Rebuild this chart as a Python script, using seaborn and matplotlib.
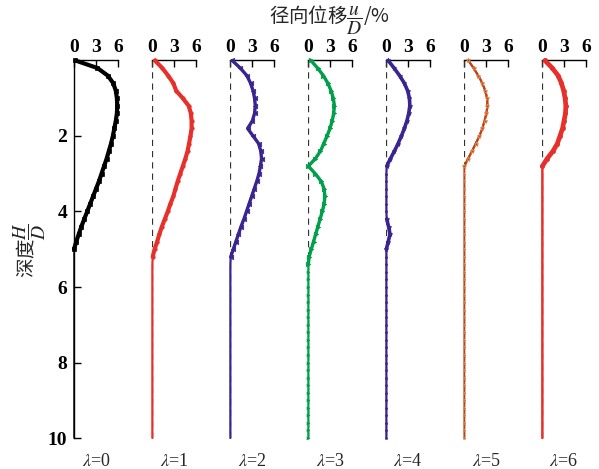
import matplotlib
matplotlib.use("Agg")
import matplotlib.pyplot as plt
import seaborn as sns
import pandas as pd
import numpy as np

# ---------------- data ----------------
depth = [0.0, 0.2, 0.4, 0.6, 0.8, 1.0, 1.2, 1.4, 1.6, 1.8,
         2.0, 2.2, 2.4, 2.6, 2.8, 3.0, 3.2, 3.4, 3.6, 3.8,
         4.0, 4.2, 4.4, 4.6, 4.8, 5.0, 5.2, 5.4, 5.6, 5.8,
         6.0, 6.2, 6.4, 6.6, 6.8, 7.0, 7.2, 7.4, 7.6, 7.8,
         8.0, 8.2, 8.4, 8.6, 8.8, 9.0, 9.2, 9.4, 9.6, 9.8, 10.0]

lam0 = [0.2, 3.2, 4.6, 5.35, 5.7, 5.85, 5.9, 5.85, 5.7, 5.5,
        5.3, 5.05, 4.75, 4.45, 4.1, 3.75, 3.4, 3.0, 2.6, 2.2,
        1.8, 1.4, 1.0, 0.65, 0.3, 0.0, 0.0, 0.0, 0.0, 0.0,
        0.0, 0.0, 0.0, 0.0, 0.0, 0.0, 0.0, 0.0, 0.0, 0.0,
        0.0, 0.0, 0.0, 0.0, 0.0, 0.0, 0.0, 0.0, 0.0, 0.0, 0.0]
lam1 = [0.4, 1.4, 2.2, 2.9, 3.3, 4.2, 5.0, 5.3, 5.4, 5.4,
        5.25, 5.05, 4.85, 4.55, 4.2, 3.85, 3.5, 3.2, 2.9, 2.5,
        2.15, 1.75, 1.35, 1.0, 0.7, 0.35, 0.1, 0.05, 0.05, 0.05,
        0.05, 0.05, 0.05, 0.05, 0.05, 0.05, 0.05, 0.05, 0.05, 0.05,
        0.05, 0.05, 0.05, 0.05, 0.05, 0.05, 0.05, 0.05, 0.05, 0.05, 0.05]
lam2 = [0.3, 1.4, 2.3, 2.8, 3.15, 3.35, 3.45, 3.35, 3.05, 2.4,
        3.15, 3.9, 4.2, 4.3, 4.15, 3.95, 3.65, 3.3, 2.95, 2.6,
        2.25, 1.9, 1.5, 1.15, 0.8, 0.45, 0.1, 0.05, 0.05, 0.05,
        0.05, 0.05, 0.05, 0.05, 0.05, 0.05, 0.05, 0.05, 0.05, 0.05,
        0.05, 0.05, 0.05, 0.05, 0.05, 0.05, 0.05, 0.05, 0.05, 0.05, 0.05]
lam3 = [0.4, 1.3, 2.1, 2.7, 3.15, 3.45, 3.6, 3.5, 3.3, 3.0,
        2.6, 2.15, 1.7, 1.0, 0.05, 1.0, 1.8, 2.2, 2.3, 2.2,
        1.95, 1.65, 1.35, 1.05, 0.75, 0.45, 0.15, 0.05, 0.05, 0.05,
        0.05, 0.05, 0.05, 0.05, 0.05, 0.05, 0.05, 0.05, 0.05, 0.05,
        0.05, 0.05, 0.05, 0.05, 0.05, 0.05, 0.05, 0.05, 0.05, 0.05, 0.05]
lam4 = [0.3, 1.1, 1.85, 2.5, 2.95, 3.2, 3.25, 3.1, 2.85, 2.5,
        2.1, 1.65, 1.15, 0.6, 0.1, 0.05, 0.05, 0.05, 0.05, 0.05,
        0.05, 0.1, 0.35, 0.55, 0.3, 0.05, 0.05, 0.05, 0.05, 0.05,
        0.05, 0.05, 0.05, 0.05, 0.05, 0.05, 0.05, 0.05, 0.05, 0.05,
        0.05, 0.05, 0.05, 0.05, 0.05, 0.05, 0.05, 0.05, 0.05, 0.05, 0.05]
lam5 = [0.6, 1.3, 1.95, 2.5, 2.9, 3.15, 3.2, 3.05, 2.8, 2.5,
        2.1, 1.6, 1.1, 0.55, 0.05, 0.05, 0.05, 0.05, 0.05, 0.05,
        0.05, 0.05, 0.05, 0.05, 0.05, 0.05, 0.05, 0.05, 0.05, 0.05,
        0.05, 0.05, 0.05, 0.05, 0.05, 0.05, 0.05, 0.05, 0.05, 0.05,
        0.05, 0.05, 0.05, 0.05, 0.05, 0.05, 0.05, 0.05, 0.05, 0.05, 0.05]
lam6 = [0.4, 1.4, 2.2, 2.65, 2.95, 3.15, 3.25, 3.2, 3.0, 2.8,
        2.45, 2.1, 1.5, 0.7, 0.05, 0.05, 0.05, 0.05, 0.05, 0.05,
        0.05, 0.05, 0.05, 0.05, 0.05, 0.05, 0.05, 0.05, 0.05, 0.05,
        0.05, 0.05, 0.05, 0.05, 0.05, 0.05, 0.05, 0.05, 0.05, 0.05,
        0.05, 0.05, 0.05, 0.05, 0.05, 0.05, 0.05, 0.05, 0.05, 0.05, 0.05]

series = [lam0, lam1, lam2, lam3, lam4, lam5, lam6]
lam_labels = [r"$\lambda$=0", r"$\lambda$=1", r"$\lambda$=2", r"$\lambda$=3",
              r"$\lambda$=4", r"$\lambda$=5", r"$\lambda$=6"]
x_ticks = [0, 3, 6]
y_ticks = [2, 4, 6, 8, 10]

# ---------------- styles ----------------
colors = ["#000000", "#e8302a", "#3a2590", "#00a04a", "#3a2590", "#b5452a", "#e8302a"]
mec = ["#000000", "#e8302a", "#3a2590", "#00a04a", "#3a2590", "#f08a3a", "#e8302a"]
markers = ["s", "o", "<", ">", "*", "*", "o"]
msizes = [3.0, 2.5, 3.2, 3.2, 3.5, 3.5, 3.0]
lws = [3.0, 3.0, 2.4, 2.4, 2.6, 1.6, 3.4]
tail_lw = [1.0, 1.6, 1.6, 1.6, 1.6, 1.4, 1.8]
tail_ms = [0, 0, 0, 2.2, 2.2, 2.2, 0]

sns.set_theme(style="white")
plt.rcParams["font.family"] = ["Liberation Serif", "Noto Sans CJK SC", "DejaVu Sans"]
plt.rcParams["mathtext.fontset"] = "stix"

fig = plt.figure(figsize=(5.99, 4.69), dpi=100)

W, H = 599.0, 469.0
left0 = 74.0
step = 78.0
pw = 44.0
top = 60.5
bottom = 438.0

for i, vals in enumerate(series):
    x0 = left0 + i * step
    ax = fig.add_axes([x0 / W, 1 - bottom / H, pw / W, (bottom - top) / H])
    v = np.asarray(vals, dtype=float)
    big = v > 0.12
    keep = big.copy()
    keep[1:] |= big[:-1]
    keep[:-1] |= big[1:]
    active = np.where(keep, v, np.nan)
    df = pd.DataFrame({"u": v, "depth": depth})
    dfa = pd.DataFrame({"u": active, "depth": depth})
    if i > 0:
        ax.axvline(0, color="#333333", lw=0.9, ls=(0, (5, 4)), zorder=1)
    # thin full profile (tail along the pile)
    sns.lineplot(data=df, x="u", y="depth", orient="y", sort=False, estimator=None,
                 ax=ax, color=colors[i], linewidth=tail_lw[i],
                 marker=markers[i] if tail_ms[i] else None, markersize=tail_ms[i],
                 markeredgecolor=mec[i], markeredgewidth=0.4,
                 clip_on=False, zorder=2)
    # thick marked deformed part
    ax.plot(dfa["u"], dfa["depth"], color=colors[i], marker=markers[i],
            markersize=msizes[i], markeredgecolor=mec[i], markeredgewidth=0.5,
            linewidth=lws[i], clip_on=False, zorder=3)
    ax.set_xlim(0, 6)
    ax.set_ylim(10, 0)
    ax.set_xlabel("")
    ax.set_ylabel("")
    ax.xaxis.set_ticks_position("top")
    ax.xaxis.set_label_position("top")
    ax.set_xticks(x_ticks)
    ax.set_xticklabels([str(t) for t in x_ticks], fontweight="bold")
    ax.tick_params(axis="x", direction="in", length=5, width=1, pad=3,
                   labelsize=14, colors="black", top=True, bottom=False)
    for s in ["right", "bottom"]:
        ax.spines[s].set_visible(False)
    ax.spines["top"].set_color("black")
    ax.spines["top"].set_linewidth(1.0)
    if i == 0:
        ax.spines["left"].set_color("black")
        ax.spines["left"].set_linewidth(1.0)
        ax.set_yticks(y_ticks)
        ax.set_yticklabels([str(t) for t in y_ticks], fontweight="bold")
        ax.tick_params(axis="y", direction="in", length=5, width=1, pad=5,
                       labelsize=14, colors="black", left=True)
    else:
        ax.spines["left"].set_visible(False)
        ax.set_yticks([])
    ax.grid(False)
    ax.set_facecolor("none")
    fig.text((x0 + pw / 2) / W, 1 - 461 / H, lam_labels[i], ha="center", va="center",
             fontsize=13, family=["Liberation Serif"])

fig.text(330 / W, 1 - 20 / H, r"径向位移$\dfrac{u}{D}$/%", ha="center", va="center",
         fontsize=14, family=["Noto Sans CJK SC", "DejaVu Sans"])
fig.text(30 / W, 1 - 250 / H, r"深度$\dfrac{H}{D}$", ha="center", va="center",
         rotation=90, fontsize=14, family=["Noto Sans CJK SC", "DejaVu Sans"])

fig.savefig("out.png", dpi=100)
